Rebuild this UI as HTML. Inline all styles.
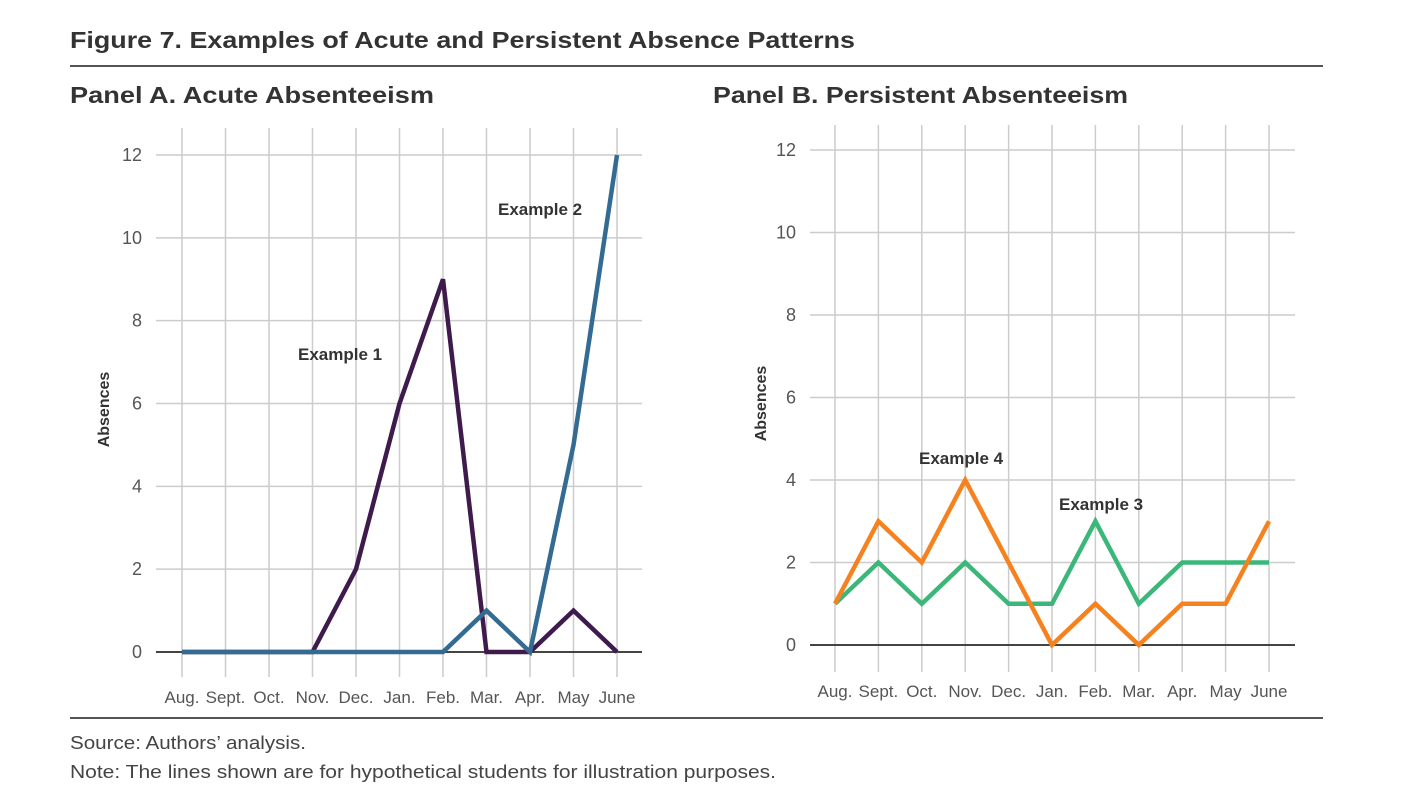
<!DOCTYPE html>
<html><head><meta charset="utf-8"><style>
body{margin:0;background:#fff;font-family:"Liberation Sans",sans-serif;}
svg text{font-family:"Liberation Sans",sans-serif;}
</style></head><body>
<svg width="1402" height="796" xmlns="http://www.w3.org/2000/svg">
<text x="70" y="48" font-size="23" font-weight="bold" fill="#333" textLength="785" lengthAdjust="spacingAndGlyphs">Figure 7. Examples of Acute and Persistent Absence Patterns</text>
<line x1="70" y1="66" x2="1323" y2="66" stroke="#555" stroke-width="2"/>
<text x="70" y="103" font-size="23" font-weight="bold" fill="#333" textLength="364" lengthAdjust="spacingAndGlyphs">Panel A. Acute Absenteeism</text>
<text x="713" y="103" font-size="23" font-weight="bold" fill="#333" textLength="415" lengthAdjust="spacingAndGlyphs">Panel B. Persistent Absenteeism</text>
<g id="pa"></g>
<g id="pb"></g>
<line x1="70" y1="718" x2="1323" y2="718" stroke="#555" stroke-width="2"/>
<text x="70" y="749" font-size="18" fill="#444" textLength="236" lengthAdjust="spacingAndGlyphs">Source: Authors’ analysis.</text>
<text x="70" y="778" font-size="18" fill="#444" textLength="706" lengthAdjust="spacingAndGlyphs">Note: The lines shown are for hypothetical students for illustration purposes.</text>
</svg>
<script>
const months=["Aug.","Sept.","Oct.","Nov.","Dec.","Jan.","Feb.","Mar.","Apr.","May","June"];
const yTicks=[0,2,4,6,8,10,12];
const ex1=[0,0,0,0,2,6,9,0,0,1,0];
const ex2=[0,0,0,0,0,0,0,1,0,5,12];
const ex3=[1,2,1,2,1,1,3,1,2,2,2];
const ex4=[1,3,2,4,2,0,1,0,1,1,3];
const NS="http://www.w3.org/2000/svg";
function mk(p,t,a){const e=document.createElementNS(NS,t);for(const k in a)e.setAttribute(k,a[k]);p.appendChild(e);return e;}
function panel(g,cfg){
  const xs=i=>cfg.x0+i*(cfg.x1-cfg.x0)/(months.length-1);
  const ys=v=>cfg.y0-v*(cfg.y0-cfg.y12)/12;
  months.forEach((m,i)=>{
    const l=mk(g,'line',{x1:xs(i),x2:xs(i),y1:cfg.vt,y2:cfg.vb,stroke:'#ccc','stroke-width':1.5});
    
    
    const t=mk(g,'text',{x:xs(i),y:cfg.lab,'font-size':17,fill:'#555','text-anchor':'middle'});
    t.textContent=m;
    
    
  });
  yTicks.forEach(v=>{
    const l=mk(g,'line',{x1:cfg.hl,x2:cfg.hr,y1:ys(v),y2:ys(v),stroke:v===0?'#444':'#ccc','stroke-width':v===0?2:1.5});
    
    
    const t=mk(g,'text',{x:cfg.hl-14,y:ys(v)+6,'font-size':18,fill:'#555','text-anchor':'end'});
    t.textContent=v;
    
    
  });
  const yt=mk(g,'text',{x:0,y:0,'font-size':16,'font-weight':'bold',fill:'#333','text-anchor':'middle',transform:`translate(${cfg.axx},${(cfg.y0+cfg.y12)/2+6}) rotate(-90)`});
  yt.textContent='Absences';
  
  
  cfg.series.forEach(s=>{
    const p=mk(g,'polyline',{points:s.d.map((v,i)=>xs(i)+','+ys(v)).join(' '),fill:'none',stroke:s.c,'stroke-width':4.5,'stroke-linejoin':'miter'});
    
    
  });
  cfg.labels.forEach(L=>{
    const t=mk(g,'text',{x:L.x,y:L.y,'font-size':17,'font-weight':'bold',fill:'#333'});
    t.textContent=L.t;
    
    
  });
}
panel(document.getElementById('pa'),{x0:182,x1:617,y0:652,y12:155,vt:128,vb:677,hl:156,hr:642,lab:703,axx:109,
 series:[{d:ex1,c:'#3e1a4d',n:'example-1-line'},{d:ex2,c:'#336b93',n:'example-2-line'}],
 labels:[{t:'Example 1',x:298,y:360},{t:'Example 2',x:498,y:215}]});
panel(document.getElementById('pb'),{x0:835,x1:1269,y0:645,y12:150,vt:125,vb:672,hl:810,hr:1295,lab:697,axx:766,
 series:[{d:ex3,c:'#3bb77a',n:'example-3-line'},{d:ex4,c:'#f5821f',n:'example-4-line'}],
 labels:[{t:'Example 4',x:919,y:464},{t:'Example 3',x:1059,y:510}]});
</script>
</body></html>
